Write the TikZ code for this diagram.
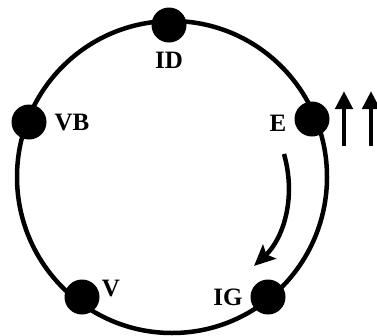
\documentclass[tikz,border=0pt]{standalone}
\usepackage{fontspec}
\setmainfont{Liberation Serif}
\usetikzlibrary{arrows.meta}
\begin{document}
\begin{tikzpicture}[x=1pt,y=-1pt,
  dot/.style={circle,fill=black,inner sep=0pt,minimum size=35pt},
  lbl/.style={font=\fontsize{25}{25}\selectfont\bfseries,inner sep=0pt},
  ring/.style={line width=4.5pt},
  arr/.style={line width=4.5pt,-{Triangle[width=17pt,length=18pt]}},
  carr/.style={line width=4.5pt,-{Stealth[width=19pt,length=21pt,inset=4pt]}}]
\useasboundingbox (0,0) rectangle (377,335);
\coordinate (c) at (172,177);
\draw[ring] (c) ellipse[x radius=155,y radius=156];
\node[dot] (id) at (169,25) {};
\node[dot] (vb) at (29,122) {};
\node[dot] (e) at (312,119) {};
\node[dot] (v) at (82,297) {};
\node[dot] (ig) at (268,297) {};
\node[lbl] (lid) at (169,60) {ID};
\node[lbl] (lvb) at (72,123) {VB};
\node[lbl] (le) at (278,123) {E};
\node[lbl] (lv) at (111,288) {V};
\node[lbl] (lig) at (228,297) {IG};
\coordinate (cs) at (284,154);
\coordinate (ce) at (254,266);
\draw[carr] (cs) .. controls (297,200) and (282,240) .. (ce);
\coordinate (a1s) at (344,146);
\coordinate (a1e) at (344,91);
\coordinate (a2s) at (371,146);
\coordinate (a2e) at (371,91);
\draw[arr] (a1s) -- (a1e);
\draw[arr] (a2s) -- (a2e);
\end{tikzpicture}
\end{document}
